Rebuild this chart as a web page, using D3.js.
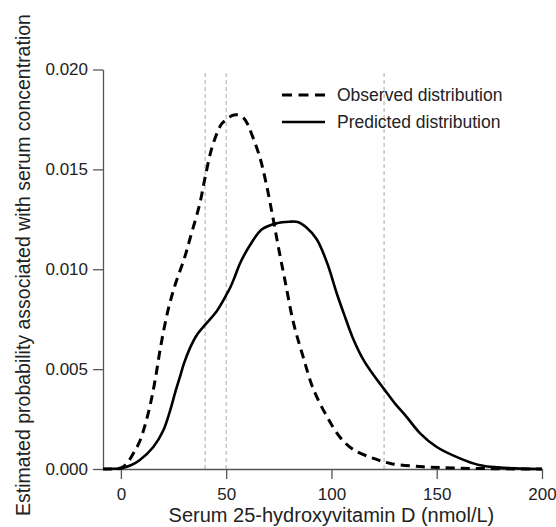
<!DOCTYPE html>
<html>
<head>
<meta charset="utf-8">
<script src="https://cdn.jsdelivr.net/npm/d3@7"></script>
<style>
  body { margin: 0; background: #fff; }
  text { font-family: "Liberation Sans", Arial, sans-serif; fill: #222; }
  .axis path, .axis line { stroke: #555; stroke-width: 1.3; }
  .axis text { font-size: 17px; fill: #222; }
</style>
</head>
<body>
<div id="chart"></div>
<script>
// serum 25(OH)D values (nmol/L) and estimated densities
var obsX = [-8.5, -5, 0, 3, 6, 9, 13, 16, 19, 22.5, 26, 30, 33, 37.5, 40, 43, 46, 48, 50, 53, 55, 58, 60, 62, 66, 69, 72, 75, 78, 82, 86.6, 91.4, 98, 104, 110, 120, 128, 142, 158, 180, 200];
var obsY = [0, 0, 0.00005, 0.0003, 0.0008, 0.0014, 0.0028, 0.0043, 0.0062, 0.0080, 0.0093, 0.0105, 0.0116, 0.0133, 0.0146, 0.0160, 0.0169, 0.0173, 0.01748, 0.0177, 0.01773, 0.0176, 0.0173, 0.0168, 0.0156, 0.0143, 0.0127, 0.0110, 0.0094, 0.0073, 0.0056, 0.0040, 0.0026, 0.0016, 0.0010, 0.00053, 0.00028, 0.00012, 0.00005, 0.00001, 0];

var predX = [-8.5, -4, 0, 5, 9, 15.4, 20, 23.3, 25.7, 28, 30, 33, 36, 40.7, 45.5, 50, 52, 54, 56.6, 61.3, 67, 74, 80, 84, 88, 93, 98, 102.5, 106.5, 110, 115, 120, 125, 130, 135, 142, 150, 161, 170, 179, 190, 200];
var predY = [0, 0.00001, 0.00003, 0.0002, 0.00045, 0.0011, 0.0019, 0.0029, 0.0038, 0.0046, 0.0053, 0.0061, 0.0067, 0.0073, 0.0079, 0.0087, 0.0091, 0.0096, 0.0103, 0.0112, 0.0120, 0.0123, 0.01238, 0.01237, 0.0121, 0.0115, 0.0103, 0.0088, 0.0076, 0.0066, 0.0055, 0.0047, 0.0040, 0.0033, 0.0027, 0.0018, 0.0011, 0.00053, 0.0002, 0.00008, 0.00002, 0];

var refLines = [40, 50, 125];
var xTicks = [0, 50, 100, 150, 200];
var yTicks = [0, 0.005, 0.010, 0.015, 0.020];
var seriesNames = ["Observed distribution", "Predicted distribution"];

var width = 556, height = 527;

var svg = d3.select("div#chart")
  .append("svg")
    .attr("width", width)
    .attr("height", height);

var x = d3.scaleLinear().domain([-8.5, 200]).range([103, 542]);
var y = d3.scaleLinear().domain([0, 0.02]).range([469, 69.5]);

// dotted reference lines
svg.append("g")
  .selectAll("line")
  .data(refLines)
  .enter().append("line")
    .attr("x1", function(d) { return x(d); })
    .attr("x2", function(d) { return x(d); })
    .attr("y1", 73)
    .attr("y2", y(0))
    .attr("stroke", "#aaa")
    .attr("stroke-width", 1)
    .attr("stroke-dasharray", "4,3");

// axes
svg.append("g")
    .attr("class", "axis")
    .attr("transform", "translate(0," + y(0) + ")")
    .call(d3.axisBottom(x).tickValues(xTicks).tickSize(10).tickSizeOuter(0).tickPadding(6))
    .selectAll("text").attr("dy", "0.9em");

svg.append("g")
    .attr("class", "axis")
    .attr("transform", "translate(" + x(-8.5) + ",0)")
    .call(d3.axisLeft(y).tickValues(yTicks).tickFormat(d3.format(".3f")).tickSize(10).tickSizeOuter(0).tickPadding(5));

svg.append("text")
    .attr("x", x(100))
    .attr("y", 522)
    .attr("text-anchor", "middle")
    .style("font-size", "20px")
    .text("Serum 25-hydroxyvitamin D (nmol/L)");

svg.append("text")
    .attr("transform", "translate(30,265) rotate(-90)")
    .attr("text-anchor", "middle")
    .style("font-size", "19.5px")
    .text("Estimated probability associated with serum concentration");

var line = d3.line()
    .x(function(d) { return x(d[0]); })
    .y(function(d) { return y(Math.max(0, d[1])); })
    .curve(d3.curveCatmullRom.alpha(0.5));

svg.append("path")
    .datum(d3.zip(predX, predY))
    .attr("fill", "none")
    .attr("stroke", "#000")
    .attr("stroke-width", 2.6)
    .attr("d", line);

svg.append("path")
    .datum(d3.zip(obsX, obsY))
    .attr("fill", "none")
    .attr("stroke", "#000")
    .attr("stroke-width", 3)
    .attr("stroke-dasharray", "9,6")
    .attr("d", line);

// legend
var legend = svg.append("g")
  .selectAll("g")
  .data(seriesNames)
  .enter().append("g")
    .attr("transform", function(d, i) { return "translate(282," + (95 + i * 27) + ")"; });

legend.append("line")
    .attr("x1", 0)
    .attr("x2", 43)
    .attr("stroke", "#000")
    .attr("stroke-width", function(d, i) { return i == 0 ? 3 : 2.6; })
    .attr("stroke-dasharray", function(d, i) { return i == 0 ? "10,6.5" : null; });

legend.append("text")
    .attr("x", 55)
    .attr("dy", "0.35em")
    .style("font-size", "17.5px")
    .text(function(d) { return d; });
</script>
</body>
</html>
